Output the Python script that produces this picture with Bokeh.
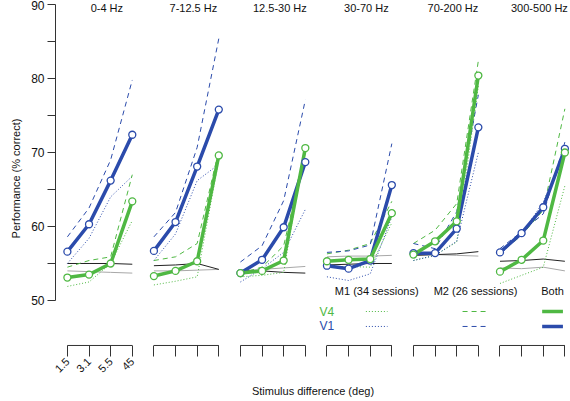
import numpy as np
from bokeh.plotting import figure
from bokeh.models import FixedTicker, Label, Range1d, Title
from bokeh.embed import file_html
from bokeh.resources import INLINE
from bokeh.core.properties import value

# ---------------- data ----------------
bands = ["0-4 Hz", "7-12.5 Hz", "12.5-30 Hz", "30-70 Hz", "70-200 Hz", "300-500 Hz"]
stim_labels = ["1.5", "3.1", "5.5", "45"]

v1_both = [[56.6, 60.3, 66.2, 72.4], [56.7, 60.6, 68.1, 75.8], [53.7, 55.5, 59.9, 68.7],
           [54.7, 54.3, 55.4, 65.6], [56.4, 56.4, 59.7, 73.4], [56.5, 59.1, 62.6, 70.5]]
v4_both = [[53.1, 53.5, 55.0, 63.4], [53.3, 54.0, 55.3, 69.6], [53.7, 54.0, 55.4, 70.6],
           [55.3, 55.5, 55.6, 61.8], [56.2, 58.0, 60.7, 80.4], [53.9, 55.5, 58.1, 70.0]]
v1_m1 = [[55.0, 58.4, 64.0, 66.8], [55.4, 59.0, 66.2, 68.4], [52.5, 54.3, 56.5, 62.3],
         [53.2, 52.7, 53.6, 61.3], [55.4, 56.1, 58.0, 70.0], [56.2, 59.0, 63.3, 70.0]]
v1_m2 = [[58.6, 62.5, 69.0, 79.8], [58.6, 61.9, 70.7, 85.4], [55.2, 57.4, 63.5, 77.1],
         [56.5, 56.7, 57.5, 71.2], [57.7, 57.0, 62.0, 77.8], [57.0, 59.3, 61.7, 71.4]]
v4_m1 = [[51.9, 52.5, 55.0, 60.8], [52.1, 52.6, 53.2, 69.0], [53.2, 53.4, 53.8, 71.0],
         [54.5, 54.6, 54.5, 60.5], [55.4, 56.1, 57.9, 79.0], [52.3, 53.4, 54.5, 65.5]]
v4_m2 = [[54.5, 55.4, 55.9, 67.0], [55.4, 55.9, 57.7, 70.3], [53.7, 54.5, 57.4, 70.0],
         [56.3, 56.8, 57.7, 63.4], [57.7, 59.5, 63.1, 82.4], [56.4, 58.8, 62.2, 75.9]]
black_ref = [[55.0, 55.0, 55.0, 54.9], [54.7, 54.8, 55.0, 54.2], [54.0, 54.0, 53.8, 53.7],
             [54.8, 54.9, 55.0, 55.0], [56.1, 56.2, 56.3, 56.6], [55.3, 55.4, 55.6, 55.3]]
gray_ref = [[54.0, 53.9, 53.8, 53.7], [54.0, 54.0, 54.1, 54.2], [54.0, 54.2, 54.4, 54.6],
            [55.9, 56.0, 56.0, 56.1], [56.1, 56.2, 56.1, 56.0], [54.4, 54.3, 54.5, 54.0]]

y_ticks = [50, 60, 70, 80, 90]
y_minor = [55, 65, 75, 85]
session_names = ["M1 (34 sessions)", "M2 (26 sessions)", "Both"]
area_names = ["V4", "V1"]

# ---------------- style ----------------
BLUE = "#2b4bab"
GREEN = "#4fb843"
FONT = "Liberation Sans"
n_stim = len(stim_labels)


def px(i):
    return [i * n_stim + j for j in range(n_stim)]


p = figure(width=570, height=401, x_range=Range1d(-0.55, 23.26), y_range=Range1d(42.43, 90.54),
           output_backend="svg", toolbar_location=None,
           min_border_left=51, min_border_right=0, min_border_top=0, min_border_bottom=45)
p.xgrid.visible = False
p.ygrid.visible = False
p.outline_line_color = None
p.background_fill_color = "white"
p.border_fill_color = "white"

# y axis
ya = p.yaxis[0]
ya.bounds = (min(y_ticks), max(y_ticks))
ya.ticker = FixedTicker(ticks=y_ticks, minor_ticks=y_minor)
ya.major_tick_out = 8
ya.major_tick_in = 0
ya.minor_tick_out = 8
ya.minor_tick_in = 0
ya.axis_line_color = "#333333"
ya.major_tick_line_color = "#333333"
ya.minor_tick_line_color = "#333333"
ya.major_label_standoff = 3
ya.major_label_text_font = FONT
ya.major_label_text_font_size = "12px"
ya.major_label_text_color = "#111111"

# x axis: ticks of every panel, labels only under the first
positions = [x for i in range(len(bands)) for x in px(i)]
xa = p.xaxis[0]
xa.ticker = FixedTicker(ticks=positions, minor_ticks=[])
xa.axis_line_color = None
xa.major_tick_in = 11
xa.major_tick_out = 0
xa.major_tick_line_color = "#333333"
xa.major_label_overrides = {pos: (stim_labels[k % n_stim] if k < n_stim else "") for k, pos in enumerate(positions)}
xa.major_label_orientation = np.pi / 4
xa.major_label_standoff = 3
xa.major_label_text_font = FONT
xa.major_label_text_font_size = "11px"
xa.major_label_text_color = "#111111"

AXIS_Y = 43.92  # level of the panel axis lines
p.segment(x0=[px(i)[0] for i in range(len(bands))], x1=[px(i)[-1] for i in range(len(bands))],
          y0=AXIS_Y, y1=AXIS_Y, line_color="#333333", line_width=1)

# data lines
all_x = [px(i) for i in range(len(bands))]
p.multi_line(xs=all_x, ys=gray_ref, line_color="#a8a8a8", line_width=1)
p.multi_line(xs=all_x, ys=black_ref, line_color="#222222", line_width=1)
p.multi_line(xs=all_x, ys=v4_m1, line_color=GREEN, line_width=1, line_dash="1 2")
p.multi_line(xs=all_x, ys=v1_m1, line_color=BLUE, line_width=1, line_dash="1 2")
p.multi_line(xs=all_x, ys=v4_m2, line_color=GREEN, line_width=1, line_dash="5 4")
p.multi_line(xs=all_x, ys=v1_m2, line_color=BLUE, line_width=1, line_dash="5 4")
p.multi_line(xs=all_x, ys=v1_both, line_color=BLUE, line_width=3.5)
p.multi_line(xs=all_x, ys=v4_both, line_color=GREEN, line_width=3.5)
flat_x = [x for xs in all_x for x in xs]
p.scatter(x=flat_x, y=[v for row in v1_both for v in row], marker="circle", size=7,
          fill_color="white", line_color=BLUE, line_width=1.3)
p.scatter(x=flat_x, y=[v for row in v4_both for v in row], marker="circle", size=7,
          fill_color="white", line_color=GREEN, line_width=1.3)

# panel titles
for i, b in enumerate(bands):
    p.add_layout(Label(x=px(i)[0] + (n_stim - 1) / 2, y=89.59, text=b, x_offset=7,
                       text_align="center", text_baseline="middle",
                       text_font=FONT, text_font_size="11px", text_color="#111111"))

# axis titles (as side titles so they sit outside the frame)
p.add_layout(Title(text="Performance (% correct)", align="center", offset=26, standoff=14,
                   text_font=FONT, text_font_size="11px", text_font_style="normal",
                   text_color="#111111"), "left")
p.add_layout(Title(text="Stimulus difference (deg)", align="center", offset=2, standoff=8,
                   text_font=FONT, text_font_size="11px", text_font_style="normal",
                   text_color="#111111"), "below")

# legend
col_x = [14.3, 18.87, 22.43]
half_w = [0.5, 0.6, 0.48]
row_y = [48.51, 46.49]
row_col = [GREEN, BLUE]
dashes = ["1 2", "5 4", "solid"]
widths = [1, 1, 3.5]
p.text(x=col_x, y=[51.22] * 3, text=session_names, text_align="center", text_baseline="middle",
       text_font=value(FONT), text_font_size="11px", text_color="#111111")
p.text(x=[11.65] * 2, y=row_y, text=area_names, text_align="left", text_baseline="middle",
       text_font=value(FONT), text_font_size="12px", text_color=row_col)
for r in range(2):
    for c in range(3):
        p.segment(x0=[col_x[c] - half_w[c]], x1=[col_x[c] + half_w[c]], y0=[row_y[r]], y1=[row_y[r]],
                  line_color=row_col[r], line_width=widths[c], line_dash=dashes[c])

open("out.html", "w").write(file_html(p, INLINE))
